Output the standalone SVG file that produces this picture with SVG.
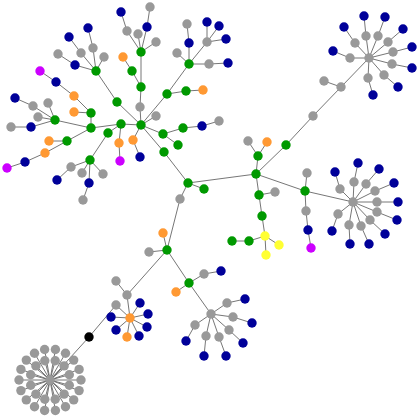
<svg xmlns="http://www.w3.org/2000/svg" width="420" height="420" viewBox="0 0 420 420">
<style>
circle{stroke:none}
.g{fill:#009900}.b{fill:#000099}.s{fill:#999999}.o{fill:#ff9933}.m{fill:#cc00ff}.y{fill:#ffff33}.k{fill:#000000}
#edges line{stroke:#666666;stroke-width:0.9}
</style>
<rect width="420" height="420" fill="#ffffff"/>
<g id="edges">
<line x1="141" y1="52" x2="127" y2="31"/><line x1="127" y1="31" x2="121" y2="12"/><line x1="141" y1="52" x2="138" y2="34"/><line x1="141" y1="52" x2="147" y2="27"/><line x1="147" y1="27" x2="150" y2="7"/><line x1="141" y1="52" x2="156" y2="42"/>
<line x1="141" y1="52" x2="141" y2="87"/><line x1="141" y1="87" x2="140" y2="107"/><line x1="140" y1="107" x2="141" y2="125"/><line x1="141" y1="87" x2="132" y2="71"/><line x1="132" y1="71" x2="123" y2="57"/>
<line x1="141" y1="125" x2="167" y2="94"/><line x1="167" y1="94" x2="186" y2="91"/><line x1="186" y1="91" x2="203" y2="90"/><line x1="167" y1="94" x2="189" y2="64"/>
<line x1="189" y1="64" x2="177" y2="53"/><line x1="189" y1="64" x2="189" y2="43"/><line x1="189" y1="43" x2="187" y2="24"/><line x1="189" y1="64" x2="207" y2="42"/><line x1="207" y1="42" x2="207" y2="22"/><line x1="207" y1="42" x2="219" y2="26"/><line x1="207" y1="42" x2="226" y2="39"/><line x1="189" y1="64" x2="209" y2="64"/><line x1="209" y1="64" x2="228" y2="63"/>
<line x1="141" y1="125" x2="156" y2="116"/><line x1="141" y1="125" x2="163" y2="134"/><line x1="163" y1="134" x2="178" y2="145"/><line x1="163" y1="134" x2="183" y2="128"/><line x1="183" y1="128" x2="202" y2="126"/><line x1="202" y1="126" x2="219" y2="121"/>
<line x1="141" y1="125" x2="164" y2="152"/><line x1="164" y1="152" x2="188" y2="183"/><line x1="141" y1="125" x2="133" y2="140"/><line x1="133" y1="140" x2="140" y2="157"/>
<line x1="141" y1="125" x2="121" y2="124"/><line x1="121" y1="124" x2="119" y2="143"/><line x1="119" y1="143" x2="120" y2="161"/><line x1="121" y1="124" x2="108" y2="133"/><line x1="121" y1="124" x2="91" y2="128"/>
<line x1="141" y1="125" x2="117" y2="102"/><line x1="117" y1="102" x2="96" y2="71"/>
<line x1="96" y1="71" x2="81" y2="53"/><line x1="81" y1="53" x2="69" y2="37"/><line x1="96" y1="71" x2="93" y2="48"/><line x1="93" y1="48" x2="88" y2="28"/><line x1="96" y1="71" x2="104" y2="57"/><line x1="96" y1="71" x2="75" y2="65"/><line x1="75" y1="65" x2="58" y2="54"/>
<line x1="91" y1="128" x2="91" y2="113"/><line x1="91" y1="113" x2="74" y2="96"/><line x1="74" y1="96" x2="56" y2="82"/><line x1="56" y1="82" x2="40" y2="71"/><line x1="91" y1="113" x2="74" y2="112"/>
<line x1="91" y1="128" x2="55" y2="120"/><line x1="55" y1="120" x2="33" y2="106"/><line x1="33" y1="106" x2="15" y2="98"/><line x1="55" y1="120" x2="48" y2="103"/><line x1="55" y1="120" x2="38" y2="117"/><line x1="55" y1="120" x2="31" y2="127"/><line x1="31" y1="127" x2="11" y2="127"/>
<line x1="91" y1="128" x2="67" y2="141"/><line x1="67" y1="141" x2="49" y2="141"/><line x1="67" y1="141" x2="45" y2="153"/><line x1="45" y1="153" x2="25" y2="162"/><line x1="25" y1="162" x2="7" y2="168"/>
<line x1="108" y1="133" x2="90" y2="160"/><line x1="90" y1="160" x2="71" y2="167"/><line x1="71" y1="167" x2="57" y2="180"/><line x1="90" y1="160" x2="82" y2="173"/><line x1="90" y1="160" x2="89" y2="183"/><line x1="89" y1="183" x2="83" y2="200"/><line x1="90" y1="160" x2="103" y2="174"/>
<line x1="188" y1="183" x2="204" y2="189"/><line x1="188" y1="183" x2="180" y2="199"/><line x1="180" y1="199" x2="167" y2="250"/><line x1="188" y1="183" x2="256" y2="174"/>
<line x1="256" y1="174" x2="258" y2="156"/><line x1="258" y1="156" x2="267" y2="142"/><line x1="258" y1="156" x2="248" y2="141"/>
<line x1="256" y1="174" x2="286" y2="145"/><line x1="286" y1="145" x2="313" y2="116"/><line x1="313" y1="116" x2="341" y2="87"/><line x1="341" y1="87" x2="324" y2="81"/><line x1="341" y1="87" x2="369" y2="58"/>
<line x1="369" y1="58" x2="366" y2="36"/><line x1="366" y1="36" x2="364" y2="16"/><line x1="369" y1="58" x2="378" y2="36"/><line x1="378" y1="36" x2="385" y2="17"/><line x1="369" y1="58" x2="355" y2="43"/><line x1="355" y1="43" x2="344" y2="27"/><line x1="369" y1="58" x2="388" y2="42"/><line x1="388" y1="42" x2="403" y2="29"/><line x1="369" y1="58" x2="393" y2="52"/><line x1="393" y1="52" x2="412" y2="47"/><line x1="369" y1="58" x2="392" y2="64"/><line x1="392" y1="64" x2="412" y2="68"/><line x1="369" y1="58" x2="384" y2="75"/><line x1="384" y1="75" x2="398" y2="87"/><line x1="369" y1="58" x2="368" y2="78"/><line x1="368" y1="78" x2="373" y2="95"/><line x1="369" y1="58" x2="350" y2="58"/><line x1="350" y1="58" x2="333" y2="51"/>
<line x1="256" y1="174" x2="305" y2="191"/><line x1="305" y1="191" x2="307" y2="173"/><line x1="305" y1="191" x2="306" y2="211"/><line x1="306" y1="211" x2="308" y2="230"/><line x1="308" y1="230" x2="311" y2="248"/><line x1="305" y1="191" x2="353" y2="202"/>
<line x1="353" y1="202" x2="340" y2="189"/><line x1="340" y1="189" x2="335" y2="172"/><line x1="353" y1="202" x2="354" y2="182"/><line x1="354" y1="182" x2="358" y2="163"/><line x1="353" y1="202" x2="366" y2="184"/><line x1="366" y1="184" x2="379" y2="169"/><line x1="353" y1="202" x2="375" y2="191"/><line x1="375" y1="191" x2="394" y2="183"/><line x1="353" y1="202" x2="377" y2="202"/><line x1="377" y1="202" x2="398" y2="202"/><line x1="353" y1="202" x2="377" y2="212"/><line x1="377" y1="212" x2="397" y2="220"/><line x1="353" y1="202" x2="370" y2="220"/><line x1="370" y1="220" x2="385" y2="234"/><line x1="353" y1="202" x2="361" y2="226"/><line x1="361" y1="226" x2="369" y2="244"/><line x1="353" y1="202" x2="349" y2="225"/><line x1="349" y1="225" x2="350" y2="244"/><line x1="353" y1="202" x2="338" y2="214"/><line x1="338" y1="214" x2="332" y2="231"/>
<line x1="256" y1="174" x2="259" y2="195"/><line x1="259" y1="195" x2="275" y2="192"/><line x1="259" y1="195" x2="262" y2="216"/><line x1="262" y1="216" x2="265" y2="236"/><line x1="265" y1="236" x2="279" y2="245"/><line x1="265" y1="236" x2="266" y2="255"/><line x1="265" y1="236" x2="249" y2="241"/><line x1="249" y1="241" x2="232" y2="241"/>
<line x1="167" y1="250" x2="163" y2="233"/><line x1="167" y1="250" x2="149" y2="252"/><line x1="167" y1="250" x2="127" y2="295"/><line x1="127" y1="295" x2="116" y2="281"/><line x1="127" y1="295" x2="130" y2="318"/>
<line x1="130" y1="318" x2="116" y2="305"/><line x1="116" y1="305" x2="89" y2="337"/><line x1="89" y1="337" x2="50" y2="380"/><line x1="130" y1="318" x2="111" y2="317"/><line x1="130" y1="318" x2="116" y2="330"/><line x1="130" y1="318" x2="127" y2="337"/><line x1="130" y1="318" x2="140" y2="303"/><line x1="130" y1="318" x2="148" y2="314"/><line x1="130" y1="318" x2="147" y2="327"/><line x1="130" y1="318" x2="139" y2="336"/>
<line x1="167" y1="250" x2="189" y2="283"/><line x1="189" y1="283" x2="176" y2="292"/><line x1="189" y1="283" x2="204" y2="274"/><line x1="204" y1="274" x2="221" y2="271"/><line x1="189" y1="283" x2="211" y2="314"/>
<line x1="211" y1="314" x2="227" y2="303"/><line x1="227" y1="303" x2="245" y2="299"/><line x1="211" y1="314" x2="233" y2="317"/><line x1="233" y1="317" x2="252" y2="323"/><line x1="211" y1="314" x2="229" y2="330"/><line x1="229" y1="330" x2="243" y2="343"/><line x1="211" y1="314" x2="219" y2="337"/><line x1="219" y1="337" x2="226" y2="356"/><line x1="211" y1="314" x2="206" y2="336"/><line x1="206" y1="336" x2="204" y2="356"/><line x1="211" y1="314" x2="195" y2="325"/><line x1="195" y1="325" x2="186" y2="341"/>
<g id="star-spokes">
<line x1="50" y1="380" x2="81" y2="380"/><line x1="50" y1="380" x2="79.1" y2="390.6"/><line x1="50" y1="380" x2="73.7" y2="399.9"/><line x1="50" y1="380" x2="65.5" y2="406.8"/><line x1="50" y1="380" x2="55.4" y2="410.5"/><line x1="50" y1="380" x2="44.6" y2="410.5"/><line x1="50" y1="380" x2="34.5" y2="406.8"/><line x1="50" y1="380" x2="26.3" y2="399.9"/><line x1="50" y1="380" x2="20.9" y2="390.6"/><line x1="50" y1="380" x2="19" y2="380"/><line x1="50" y1="380" x2="20.9" y2="369.4"/><line x1="50" y1="380" x2="26.3" y2="360.1"/><line x1="50" y1="380" x2="34.5" y2="353.2"/><line x1="50" y1="380" x2="44.6" y2="349.5"/><line x1="50" y1="380" x2="55.4" y2="349.5"/><line x1="50" y1="380" x2="65.5" y2="353.2"/><line x1="50" y1="380" x2="73.7" y2="360.1"/><line x1="50" y1="380" x2="79.1" y2="369.4"/>
<line x1="50" y1="380" x2="69.3" y2="385.2"/><line x1="50" y1="380" x2="64.1" y2="394.1"/><line x1="50" y1="380" x2="55.2" y2="399.3"/><line x1="50" y1="380" x2="44.8" y2="399.3"/><line x1="50" y1="380" x2="35.9" y2="394.1"/><line x1="50" y1="380" x2="30.7" y2="385.2"/><line x1="50" y1="380" x2="30.7" y2="374.8"/><line x1="50" y1="380" x2="35.9" y2="365.9"/><line x1="50" y1="380" x2="44.8" y2="360.7"/><line x1="50" y1="380" x2="55.2" y2="360.7"/><line x1="50" y1="380" x2="64.1" y2="365.9"/><line x1="50" y1="380" x2="69.3" y2="374.8"/>
</g>
</g>
<g id="nodes">
<g id="hub"><circle class="g" cx="141" cy="125" r="4.7"/></g>
<g id="n1"><circle class="g" cx="141" cy="52" r="4.7"/></g>
<g id="n2"><circle class="s" cx="127" cy="31" r="4.7"/></g>
<g id="n3"><circle class="b" cx="121" cy="12" r="4.7"/></g>
<g id="n4"><circle class="s" cx="138" cy="34" r="4.7"/></g>
<g id="n5"><circle class="b" cx="147" cy="27" r="4.7"/></g>
<g id="n6"><circle class="s" cx="150" cy="7" r="4.7"/></g>
<g id="n7"><circle class="s" cx="156" cy="42" r="4.7"/></g>
<g id="n8"><circle class="g" cx="141" cy="87" r="4.7"/></g>
<g id="n9"><circle class="s" cx="140" cy="107" r="4.7"/></g>
<g id="n10"><circle class="g" cx="132" cy="71" r="4.7"/></g>
<g id="n11"><circle class="o" cx="123" cy="57" r="4.7"/></g>
<g id="n12"><circle class="g" cx="167" cy="94" r="4.7"/></g>
<g id="n13"><circle class="g" cx="186" cy="91" r="4.7"/></g>
<g id="n14"><circle class="o" cx="203" cy="90" r="4.7"/></g>
<g id="n15"><circle class="g" cx="189" cy="64" r="4.7"/></g>
<g id="n16"><circle class="s" cx="177" cy="53" r="4.7"/></g>
<g id="n17"><circle class="b" cx="189" cy="43" r="4.7"/></g>
<g id="n18"><circle class="s" cx="187" cy="24" r="4.7"/></g>
<g id="n19"><circle class="s" cx="207" cy="42" r="4.7"/></g>
<g id="n20"><circle class="b" cx="207" cy="22" r="4.7"/></g>
<g id="n21"><circle class="b" cx="219" cy="26" r="4.7"/></g>
<g id="n22"><circle class="b" cx="226" cy="39" r="4.7"/></g>
<g id="n23"><circle class="s" cx="209" cy="64" r="4.7"/></g>
<g id="n24"><circle class="b" cx="228" cy="63" r="4.7"/></g>
<g id="n25"><circle class="s" cx="156" cy="116" r="4.7"/></g>
<g id="n26"><circle class="g" cx="163" cy="134" r="4.7"/></g>
<g id="n27"><circle class="g" cx="178" cy="145" r="4.7"/></g>
<g id="n28"><circle class="g" cx="183" cy="128" r="4.7"/></g>
<g id="n29"><circle class="b" cx="202" cy="126" r="4.7"/></g>
<g id="n30"><circle class="s" cx="219" cy="121" r="4.7"/></g>
<g id="n31"><circle class="g" cx="164" cy="152" r="4.7"/></g>
<g id="n32"><circle class="o" cx="133" cy="140" r="4.7"/></g>
<g id="n33"><circle class="b" cx="140" cy="157" r="4.7"/></g>
<g id="n34"><circle class="g" cx="121" cy="124" r="4.7"/></g>
<g id="n35"><circle class="o" cx="119" cy="143" r="4.7"/></g>
<g id="n36"><circle class="m" cx="120" cy="161" r="4.7"/></g>
<g id="n37"><circle class="g" cx="108" cy="133" r="4.7"/></g>
<g id="n38"><circle class="g" cx="117" cy="102" r="4.7"/></g>
<g id="n39"><circle class="g" cx="96" cy="71" r="4.7"/></g>
<g id="n40"><circle class="s" cx="81" cy="53" r="4.7"/></g>
<g id="n41"><circle class="b" cx="69" cy="37" r="4.7"/></g>
<g id="n42"><circle class="s" cx="93" cy="48" r="4.7"/></g>
<g id="n43"><circle class="b" cx="88" cy="28" r="4.7"/></g>
<g id="n44"><circle class="s" cx="104" cy="57" r="4.7"/></g>
<g id="n45"><circle class="b" cx="75" cy="65" r="4.7"/></g>
<g id="n46"><circle class="s" cx="58" cy="54" r="4.7"/></g>
<g id="n47"><circle class="g" cx="91" cy="128" r="4.7"/></g>
<g id="n48"><circle class="g" cx="91" cy="113" r="4.7"/></g>
<g id="n49"><circle class="o" cx="74" cy="96" r="4.7"/></g>
<g id="n50"><circle class="b" cx="56" cy="82" r="4.7"/></g>
<g id="n51"><circle class="m" cx="40" cy="71" r="4.7"/></g>
<g id="n52"><circle class="o" cx="74" cy="112" r="4.7"/></g>
<g id="n53"><circle class="g" cx="55" cy="120" r="4.7"/></g>
<g id="n54"><circle class="s" cx="33" cy="106" r="4.7"/></g>
<g id="n55"><circle class="b" cx="15" cy="98" r="4.7"/></g>
<g id="n56"><circle class="s" cx="48" cy="103" r="4.7"/></g>
<g id="n57"><circle class="s" cx="38" cy="117" r="4.7"/></g>
<g id="n58"><circle class="b" cx="31" cy="127" r="4.7"/></g>
<g id="n59"><circle class="s" cx="11" cy="127" r="4.7"/></g>
<g id="n60"><circle class="g" cx="67" cy="141" r="4.7"/></g>
<g id="n61"><circle class="o" cx="49" cy="141" r="4.7"/></g>
<g id="n62"><circle class="o" cx="45" cy="153" r="4.7"/></g>
<g id="n63"><circle class="b" cx="25" cy="162" r="4.7"/></g>
<g id="n64"><circle class="m" cx="7" cy="168" r="4.7"/></g>
<g id="n65"><circle class="g" cx="90" cy="160" r="4.7"/></g>
<g id="n66"><circle class="s" cx="71" cy="167" r="4.7"/></g>
<g id="n67"><circle class="b" cx="57" cy="180" r="4.7"/></g>
<g id="n68"><circle class="s" cx="82" cy="173" r="4.7"/></g>
<g id="n69"><circle class="b" cx="89" cy="183" r="4.7"/></g>
<g id="n70"><circle class="s" cx="83" cy="200" r="4.7"/></g>
<g id="n71"><circle class="s" cx="103" cy="174" r="4.7"/></g>
<g id="n72"><circle class="g" cx="188" cy="183" r="4.7"/></g>
<g id="n73"><circle class="g" cx="204" cy="189" r="4.7"/></g>
<g id="n74"><circle class="s" cx="180" cy="199" r="4.7"/></g>
<g id="n75"><circle class="g" cx="256" cy="174" r="4.7"/></g>
<g id="n76"><circle class="g" cx="258" cy="156" r="4.7"/></g>
<g id="n77"><circle class="o" cx="267" cy="142" r="4.7"/></g>
<g id="n78"><circle class="s" cx="248" cy="141" r="4.7"/></g>
<g id="n79"><circle class="g" cx="286" cy="145" r="4.7"/></g>
<g id="n80"><circle class="s" cx="313" cy="116" r="4.7"/></g>
<g id="n81"><circle class="s" cx="341" cy="87" r="4.7"/></g>
<g id="n82"><circle class="s" cx="324" cy="81" r="4.7"/></g>
<g id="n83"><circle class="s" cx="369" cy="58" r="4.7"/></g>
<g id="n84"><circle class="s" cx="366" cy="36" r="4.7"/></g>
<g id="n85"><circle class="b" cx="364" cy="16" r="4.7"/></g>
<g id="n86"><circle class="s" cx="378" cy="36" r="4.7"/></g>
<g id="n87"><circle class="b" cx="385" cy="17" r="4.7"/></g>
<g id="n88"><circle class="s" cx="355" cy="43" r="4.7"/></g>
<g id="n89"><circle class="b" cx="344" cy="27" r="4.7"/></g>
<g id="n90"><circle class="s" cx="388" cy="42" r="4.7"/></g>
<g id="n91"><circle class="b" cx="403" cy="29" r="4.7"/></g>
<g id="n92"><circle class="s" cx="393" cy="52" r="4.7"/></g>
<g id="n93"><circle class="b" cx="412" cy="47" r="4.7"/></g>
<g id="n94"><circle class="s" cx="392" cy="64" r="4.7"/></g>
<g id="n95"><circle class="b" cx="412" cy="68" r="4.7"/></g>
<g id="n96"><circle class="s" cx="384" cy="75" r="4.7"/></g>
<g id="n97"><circle class="b" cx="398" cy="87" r="4.7"/></g>
<g id="n98"><circle class="s" cx="368" cy="78" r="4.7"/></g>
<g id="n99"><circle class="b" cx="373" cy="95" r="4.7"/></g>
<g id="n100"><circle class="s" cx="350" cy="58" r="4.7"/></g>
<g id="n101"><circle class="b" cx="333" cy="51" r="4.7"/></g>
<g id="n102"><circle class="g" cx="305" cy="191" r="4.7"/></g>
<g id="n103"><circle class="s" cx="307" cy="173" r="4.7"/></g>
<g id="n104"><circle class="s" cx="306" cy="211" r="4.7"/></g>
<g id="n105"><circle class="b" cx="308" cy="230" r="4.7"/></g>
<g id="n106"><circle class="m" cx="311" cy="248" r="4.7"/></g>
<g id="n107"><circle class="s" cx="353" cy="202" r="4.7"/></g>
<g id="n108"><circle class="s" cx="340" cy="189" r="4.7"/></g>
<g id="n109"><circle class="b" cx="335" cy="172" r="4.7"/></g>
<g id="n110"><circle class="s" cx="354" cy="182" r="4.7"/></g>
<g id="n111"><circle class="b" cx="358" cy="163" r="4.7"/></g>
<g id="n112"><circle class="s" cx="366" cy="184" r="4.7"/></g>
<g id="n113"><circle class="b" cx="379" cy="169" r="4.7"/></g>
<g id="n114"><circle class="s" cx="375" cy="191" r="4.7"/></g>
<g id="n115"><circle class="b" cx="394" cy="183" r="4.7"/></g>
<g id="n116"><circle class="s" cx="377" cy="202" r="4.7"/></g>
<g id="n117"><circle class="b" cx="398" cy="202" r="4.7"/></g>
<g id="n118"><circle class="s" cx="377" cy="212" r="4.7"/></g>
<g id="n119"><circle class="b" cx="397" cy="220" r="4.7"/></g>
<g id="n120"><circle class="s" cx="370" cy="220" r="4.7"/></g>
<g id="n121"><circle class="b" cx="385" cy="234" r="4.7"/></g>
<g id="n122"><circle class="s" cx="361" cy="226" r="4.7"/></g>
<g id="n123"><circle class="b" cx="369" cy="244" r="4.7"/></g>
<g id="n124"><circle class="s" cx="349" cy="225" r="4.7"/></g>
<g id="n125"><circle class="b" cx="350" cy="244" r="4.7"/></g>
<g id="n126"><circle class="s" cx="338" cy="214" r="4.7"/></g>
<g id="n127"><circle class="b" cx="332" cy="231" r="4.7"/></g>
<g id="n128"><circle class="g" cx="259" cy="195" r="4.7"/></g>
<g id="n129"><circle class="s" cx="275" cy="192" r="4.7"/></g>
<g id="n130"><circle class="g" cx="262" cy="216" r="4.7"/></g>
<g id="n131"><circle class="y" cx="265" cy="236" r="4.7"/></g>
<g id="n132"><circle class="y" cx="279" cy="245" r="4.7"/></g>
<g id="n133"><circle class="y" cx="266" cy="255" r="4.7"/></g>
<g id="n134"><circle class="g" cx="249" cy="241" r="4.7"/></g>
<g id="n135"><circle class="g" cx="232" cy="241" r="4.7"/></g>
<g id="n136"><circle class="g" cx="167" cy="250" r="4.7"/></g>
<g id="n137"><circle class="o" cx="163" cy="233" r="4.7"/></g>
<g id="n138"><circle class="s" cx="149" cy="252" r="4.7"/></g>
<g id="n139"><circle class="s" cx="127" cy="295" r="4.7"/></g>
<g id="n140"><circle class="s" cx="116" cy="281" r="4.7"/></g>
<g id="n141"><circle class="o" cx="130" cy="318" r="4.7"/></g>
<g id="n142"><circle class="s" cx="116" cy="305" r="4.7"/></g>
<g id="n143"><circle class="b" cx="111" cy="317" r="4.7"/></g>
<g id="n144"><circle class="b" cx="116" cy="330" r="4.7"/></g>
<g id="n145"><circle class="o" cx="127" cy="337" r="4.7"/></g>
<g id="n146"><circle class="b" cx="140" cy="303" r="4.7"/></g>
<g id="n147"><circle class="b" cx="148" cy="314" r="4.7"/></g>
<g id="n148"><circle class="b" cx="147" cy="327" r="4.7"/></g>
<g id="n149"><circle class="b" cx="139" cy="336" r="4.7"/></g>
<g id="n150"><circle class="k" cx="89" cy="337" r="4.7"/></g>
<g id="n151"><circle class="g" cx="189" cy="283" r="4.7"/></g>
<g id="n152"><circle class="o" cx="176" cy="292" r="4.7"/></g>
<g id="n153"><circle class="s" cx="204" cy="274" r="4.7"/></g>
<g id="n154"><circle class="b" cx="221" cy="271" r="4.7"/></g>
<g id="n155"><circle class="s" cx="211" cy="314" r="4.7"/></g>
<g id="n156"><circle class="s" cx="227" cy="303" r="4.7"/></g>
<g id="n157"><circle class="b" cx="245" cy="299" r="4.7"/></g>
<g id="n158"><circle class="s" cx="233" cy="317" r="4.7"/></g>
<g id="n159"><circle class="b" cx="252" cy="323" r="4.7"/></g>
<g id="n160"><circle class="s" cx="229" cy="330" r="4.7"/></g>
<g id="n161"><circle class="b" cx="243" cy="343" r="4.7"/></g>
<g id="n162"><circle class="s" cx="219" cy="337" r="4.7"/></g>
<g id="n163"><circle class="b" cx="226" cy="356" r="4.7"/></g>
<g id="n164"><circle class="s" cx="206" cy="336" r="4.7"/></g>
<g id="n165"><circle class="b" cx="204" cy="356" r="4.7"/></g>
<g id="n166"><circle class="s" cx="195" cy="325" r="4.7"/></g>
<g id="n167"><circle class="b" cx="186" cy="341" r="4.7"/></g>
<g id="star">
<g id="st0"><circle class="s" cx="50" cy="380" r="4.7"/></g>
<g id="st1"><circle class="s" cx="81" cy="380" r="4.7"/></g>
<g id="st2"><circle class="s" cx="79.1" cy="390.6" r="4.7"/></g>
<g id="st3"><circle class="s" cx="73.7" cy="399.9" r="4.7"/></g>
<g id="st4"><circle class="s" cx="65.5" cy="406.8" r="4.7"/></g>
<g id="st5"><circle class="s" cx="55.4" cy="410.5" r="4.7"/></g>
<g id="st6"><circle class="s" cx="44.6" cy="410.5" r="4.7"/></g>
<g id="st7"><circle class="s" cx="34.5" cy="406.8" r="4.7"/></g>
<g id="st8"><circle class="s" cx="26.3" cy="399.9" r="4.7"/></g>
<g id="st9"><circle class="s" cx="20.9" cy="390.6" r="4.7"/></g>
<g id="st10"><circle class="s" cx="19" cy="380" r="4.7"/></g>
<g id="st11"><circle class="s" cx="20.9" cy="369.4" r="4.7"/></g>
<g id="st12"><circle class="s" cx="26.3" cy="360.1" r="4.7"/></g>
<g id="st13"><circle class="s" cx="34.5" cy="353.2" r="4.7"/></g>
<g id="st14"><circle class="s" cx="44.6" cy="349.5" r="4.7"/></g>
<g id="st15"><circle class="s" cx="55.4" cy="349.5" r="4.7"/></g>
<g id="st16"><circle class="s" cx="65.5" cy="353.2" r="4.7"/></g>
<g id="st17"><circle class="s" cx="73.7" cy="360.1" r="4.7"/></g>
<g id="st18"><circle class="s" cx="79.1" cy="369.4" r="4.7"/></g>
<g id="st19"><circle class="s" cx="69.3" cy="385.2" r="4.7"/></g>
<g id="st20"><circle class="s" cx="64.1" cy="394.1" r="4.7"/></g>
<g id="st21"><circle class="s" cx="55.2" cy="399.3" r="4.7"/></g>
<g id="st22"><circle class="s" cx="44.8" cy="399.3" r="4.7"/></g>
<g id="st23"><circle class="s" cx="35.9" cy="394.1" r="4.7"/></g>
<g id="st24"><circle class="s" cx="30.7" cy="385.2" r="4.7"/></g>
<g id="st25"><circle class="s" cx="30.7" cy="374.8" r="4.7"/></g>
<g id="st26"><circle class="s" cx="35.9" cy="365.9" r="4.7"/></g>
<g id="st27"><circle class="s" cx="44.8" cy="360.7" r="4.7"/></g>
<g id="st28"><circle class="s" cx="55.2" cy="360.7" r="4.7"/></g>
<g id="st29"><circle class="s" cx="64.1" cy="365.9" r="4.7"/></g>
<g id="st30"><circle class="s" cx="69.3" cy="374.8" r="4.7"/></g>
</g>
</g>
</svg>
